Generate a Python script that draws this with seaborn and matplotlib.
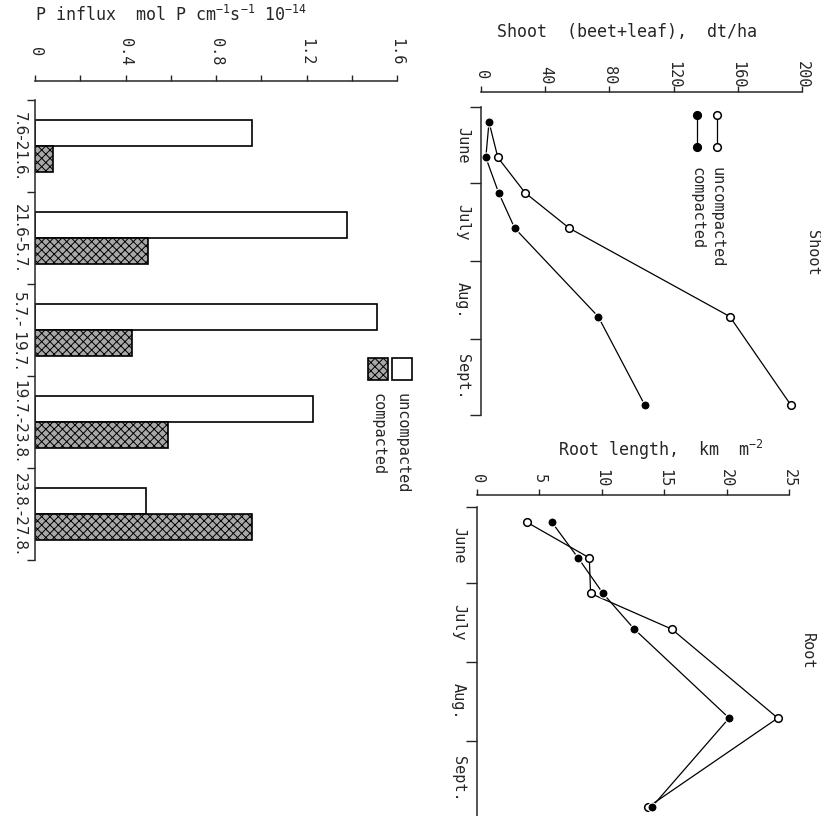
import numpy as np
import pandas as pd
import matplotlib
matplotlib.use("Agg")
import matplotlib.pyplot as plt
import seaborn as sns
from matplotlib.patches import Rectangle
from matplotlib.lines import Line2D
from matplotlib.ticker import MultipleLocator, FixedLocator

# ---------------- data ----------------
periods = ["7.6-21.6.", "21.6-5.7.", "5.7.- 19.7.", "19.7.-23.8.", "23.8.-27.8."]
influx_uncompacted = [0.96, 1.38, 1.51, 1.23, 0.49]
influx_compacted = [0.08, 0.50, 0.43, 0.59, 0.96]

sample_dates = ["06-07", "06-21", "07-05", "07-19", "08-23", "09-27"]
shoot_uncompacted = [5, 10.5, 27.5, 55, 155, 193]
shoot_compacted = [5, 3, 11, 21, 73, 102]
root_uncompacted = [4.0, 9.0, 9.1, 15.6, 24.1, 13.7]
root_compacted = [6.0, 8.1, 10.1, 12.6, 20.2, 14.0]

month_labels = ["June", "July", "Aug.", "Sept."]
month_starts = ["06-01", "07-01", "08-01", "09-01", "10-01"]

treatments = ["uncompacted", "compacted"]

# ---------------- helpers ----------------
W, H = 821, 816
DPI = 100


def to_day(md):
    return (pd.Timestamp("1990-" + md) - pd.Timestamp("1990-06-01")).days


days = [to_day(d) for d in sample_dates]
bounds = [to_day(d) for d in month_starts]
mids = [(a + b) / 2 for a, b in zip(bounds[:-1], bounds[1:])]


def add_axes_px(fig, left, top, right, bottom):
    return fig.add_axes([left / W, 1 - bottom / H, (right - left) / W, (bottom - top) / H])


def fx(x):
    return x / W


def fy(y):
    return 1 - y / H


sns.set_style("white")
plt.rcParams["font.family"] = ["DejaVu Sans Mono", "DejaVu Sans"]
plt.rcParams["mathtext.default"] = "regular"
plt.rcParams["hatch.linewidth"] = 0.7
plt.rcParams["axes.linewidth"] = 1.1

FS = 11
fig = plt.figure(figsize=(W / DPI, H / DPI), dpi=DPI)
fig.patch.set_facecolor("white")

# ---------------- bar panel ----------------
bar_df = pd.DataFrame({
    "period": periods * 2,
    "influx": influx_uncompacted + influx_compacted,
    "treatment": [treatments[0]] * len(periods) + [treatments[1]] * len(periods),
})
axb = add_axes_px(fig, 35, 100, 397, 560)
sns.barplot(data=bar_df, x="influx", y="period", hue="treatment", orient="h",
            hue_order=treatments, palette={"uncompacted": "white", "compacted": "#a8a8a8"},
            saturation=1, width=0.56, edgecolor="black", linewidth=1.2,
            legend=False, ax=axb, errorbar=None)
for bar in axb.containers[1]:
    bar.set_hatch("xxxx")
axb.set_xlim(0, 1.6)
axb.set_ylim(4.5, -0.5)
for s in ["right", "bottom"]:
    axb.spines[s].set_visible(False)
axb.spines["top"].set_position(("outward", 14))
axb.xaxis.tick_top()
axb.xaxis.set_minor_locator(MultipleLocator(0.2))
axb.set_xticks([0, 0.4, 0.8, 1.2, 1.6])
axb.set_xticklabels(["0", "0.4", "0.8", "1.2", "1.6"])
axb.tick_params(axis="x", which="both", top=True, bottom=False, direction="out",
                length=4, width=1, labelsize=FS, labelrotation=-90, pad=17)
for lab in axb.get_xticklabels():
    lab.set_va("center")
axb.set_yticks(range(len(periods)))
axb.set_yticklabels(periods, family="DejaVu Sans")
axb.yaxis.set_minor_locator(FixedLocator(np.arange(-0.5, len(periods), 1.0)))
axb.tick_params(axis="y", which="major", left=True, length=0, labelsize=FS,
                labelrotation=-90, pad=6)
axb.tick_params(axis="y", which="minor", left=True, length=6, width=1, direction="out")
for lab in axb.get_yticklabels():
    lab.set_va("center")
axb.set_xlabel("")
axb.set_ylabel("")
fig.text(fx(35), fy(15), r"P influx  mol P cm$^{-1}$s$^{-1}$ 10$^{-14}$",
         ha="left", va="center", fontsize=FS + 1)

# bar legend
fig.add_artist(Rectangle((fx(392), fy(380)), fx(20), (22 / H), transform=fig.transFigure,
                         facecolor="white", edgecolor="black", linewidth=1.2))
fig.add_artist(Rectangle((fx(368), fy(380)), fx(20), (22 / H), transform=fig.transFigure,
                         facecolor="#a8a8a8", edgecolor="black", linewidth=1.2, hatch="xxxx"))
fig.text(fx(402), fy(393), "uncompacted", rotation=-90, ha="center", va="top", fontsize=FS)
fig.text(fx(378), fy(393), "compacted", rotation=-90, ha="center", va="top", fontsize=FS)


# ---------------- line panels ----------------
def line_panel(ax, unc, comp, xmax, xstep, offset_pt, bottom_day):
    df_u = pd.DataFrame({"day": days, "value": unc})
    df_c = pd.DataFrame({"day": days, "value": comp})
    sns.lineplot(data=df_u, x="value", y="day", orient="y", sort=False, color="black",
                 linewidth=0.9, marker="o", markersize=5.5, markerfacecolor="white",
                 markeredgecolor="black", markeredgewidth=1.1, ax=ax)
    sns.lineplot(data=df_c, x="value", y="day", orient="y", sort=False, color="black",
                 linewidth=0.9, marker="o", markersize=6.5, markerfacecolor="black",
                 markeredgecolor="white", markeredgewidth=0.8, ax=ax)
    ax.set_xlim(0, xmax)
    ax.set_ylim(bottom_day, 0)
    for s in ["right", "bottom"]:
        ax.spines[s].set_visible(False)
    ax.spines["top"].set_position(("outward", offset_pt))
    ax.xaxis.tick_top()
    ticks = np.arange(0, xmax + 0.001, xstep)
    ax.set_xticks(ticks)
    ax.set_xticklabels([f"{t:g}" for t in ticks])
    ax.tick_params(axis="x", which="major", top=True, bottom=False, direction="out",
                   length=4, width=1, labelsize=FS, labelrotation=-90, pad=8)
    for lab in ax.get_xticklabels():
        lab.set_va("center")
    ax.set_yticks(mids)
    ax.set_yticklabels(month_labels)
    ax.yaxis.set_minor_locator(FixedLocator(bounds))
    ax.tick_params(axis="y", which="major", left=True, length=0, labelsize=FS,
                   labelrotation=-90, pad=8)
    ax.tick_params(axis="y", which="minor", left=True, length=8, width=1, direction="out")
    for lab in ax.get_yticklabels():
        lab.set_va("center")
    ax.set_xlabel("")
    ax.set_ylabel("")


axs = add_axes_px(fig, 481, 107, 802, 415)
line_panel(axs, shoot_uncompacted, shoot_compacted, 200, 40, 11, 122)
fig.text(fx(497), fy(32), "Shoot  (beet+leaf),  dt/ha", ha="left", va="center", fontsize=FS + 1)
fig.text(fx(812), fy(253), "Shoot", rotation=-90, ha="center", va="center", fontsize=FS)

axr = add_axes_px(fig, 477, 507, 789, 816)
line_panel(axr, root_uncompacted, root_compacted, 25, 5, 8.5, 121.5)
fig.text(fx(558), fy(450), r"Root length,  km  m$^{-2}$", ha="left", va="center", fontsize=FS + 1)
fig.text(fx(807), fy(651), "Root", rotation=-90, ha="center", va="center", fontsize=FS)

# shoot legend
for xl, face, lab in [(717, "white", "uncompacted"), (697, "black", "compacted")]:
    fig.add_artist(Line2D([fx(xl), fx(xl)], [fy(115), fy(147)], transform=fig.transFigure,
                          color="black", linewidth=0.9, marker="o", markersize=5.5,
                          markerfacecolor=face, markeredgecolor="black", markeredgewidth=1.1))
    fig.text(fx(xl), fy(167), lab, rotation=-90, ha="center", va="top", fontsize=FS)

fig.savefig("out.png", dpi=DPI, facecolor="white")
